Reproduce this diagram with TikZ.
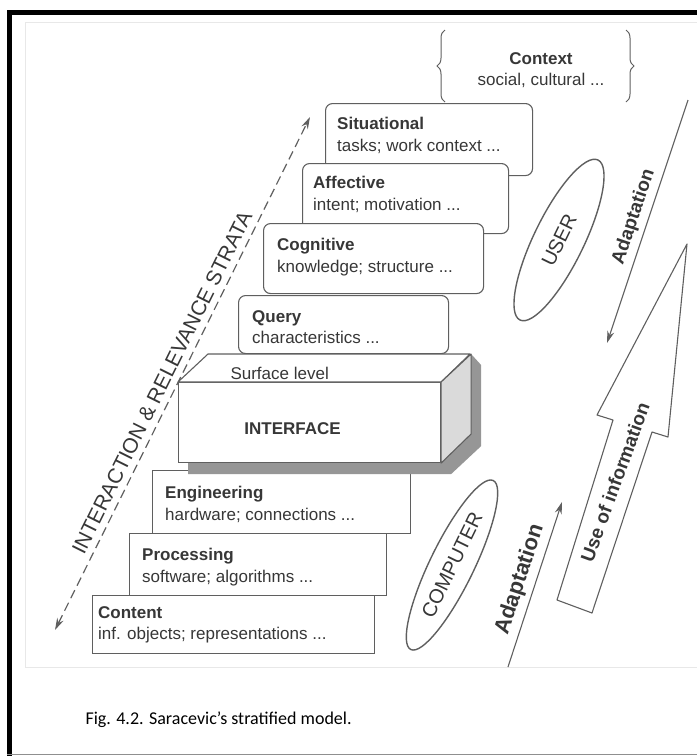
\documentclass[tikz,border=0pt]{standalone}
\usepackage{fontspec}
\setmainfont{Liberation Sans}
\newfontfamily\captionfont{Carlito}
\usetikzlibrary{positioning,arrows.meta,calc,shapes.geometric,decorations.pathreplacing}
\definecolor{smBorder}{RGB}{95,95,95}
\definecolor{smText}{RGB}{55,55,55}
\definecolor{smSide}{RGB}{218,218,218}
\definecolor{smShadow}{RGB}{150,150,150}
\definecolor{smFrame}{RGB}{232,232,232}

\begin{document}
\begin{tikzpicture}[
  x=1pt, y=-1pt,
  every node/.style={font=\fontsize{17}{21.5}\selectfont, text=smText},
  upper/.style={draw=smBorder, line width=1.1pt, rounded corners=7pt, fill=white, anchor=north west, inner sep=0pt},
  lower/.style={draw=smBorder, line width=1.1pt, fill=white, anchor=north west, inner sep=0pt},
  stext/.style={anchor=north west, align=left, inner sep=0pt},
  face/.style={draw=smBorder, line width=1.1pt, fill=white, line join=round},
  actor/.style={ellipse, draw=smBorder, line width=1.4pt, inner sep=0pt, font=\fontsize{20}{24}\selectfont},
  adapt/.style={-{Stealth[length=12pt,width=7pt]}, line width=1.1pt, smBorder},
  strata/.style={{Stealth[length=12pt,width=7pt]}-{Stealth[length=12pt,width=7pt]}, dash pattern=on 9pt off 5pt, line width=1.2pt, smBorder},
  brace/.style={decorate, decoration={brace, amplitude=8pt}, draw=smBorder, line width=1pt}
]
\useasboundingbox (0,0) rectangle (697,756);

% frame of the figure
\draw[smFrame, line width=0.8pt] (25,22) rectangle (710,667);
\draw[line width=5pt] (9.5,756) -- (9.5,12.5) -- (697,12.5);
\draw[smBorder!70, line width=1.2pt] (7,754.5) -- (697,754.5);

% context in braces
\node[align=center] (ctx) at (541,70) {\textbf{Context}\\social, cultural ...};
\draw[brace] ([shift={(-96,32)}]ctx.center) -- ([shift={(-96,-40)}]ctx.center);
\draw[brace] ([shift={(85,-40)}]ctx.center) -- ([shift={(85,32)}]ctx.center);

% user strata
\node[upper, minimum width=207pt, minimum height=72pt] (sit) at (325,103) {};
\node[stext] (sitT) at ([shift={(12,14)}]sit.north west) {\textbf{Situational}\\tasks; work context ...};
\node[upper, minimum width=206pt, minimum height=70pt] (aff) at (302,163) {};
\node[stext] (affT) at ([shift={(11,13)}]aff.north west) {\textbf{Affective}\\intent; motivation ...};
\node[upper, minimum width=220pt, minimum height=70pt] (cog) at (263,223) {};
\node[stext] (cogT) at ([shift={(14,15)}]cog.north west) {\textbf{Cognitive}\\knowledge; structure ...};
\node[upper, minimum width=210pt, minimum height=58pt] (qry) at (238,295) {};
\node[stext] (qryT) at ([shift={(14,15)}]qry.north west) {\textbf{Query}\\characteristics ...};

% computer strata
\node[lower, minimum width=282pt, minimum height=58pt] (con) at (92,595) {};
\node[stext] (conT) at ([shift={(6,11)}]con.north west) {\textbf{Content}\\inf. objects; representations ...};
\node[lower, minimum width=257pt, minimum height=62pt] (pro) at (129,533) {};
\node[stext] (proT) at ([shift={(13,15)}]pro.north west) {\textbf{Processing}\\software; algorithms ...};
\node[lower, minimum width=258pt, minimum height=63pt] (eng) at (152,470) {};
\node[stext] (engT) at ([shift={(13,16)}]eng.north west) {\textbf{Engineering}\\hardware; connections ...};

% interface block
\node[face, anchor=north west, minimum width=262pt, minimum height=80pt, inner sep=0pt] (iface) at (178,382) {};
\fill[smShadow] ([shift={(10,11)}]iface.north west) -- ([shift={(10,11)}]iface.south west)
  -- ([shift={(10,11)}]iface.south east) -- ([shift={(40,-17)}]iface.south east)
  -- ([shift={(40,-17)}]iface.north east) -- ([shift={(30,-28)}]iface.north east) -- cycle;
\node[face, anchor=north west, minimum width=262pt, minimum height=80pt, inner sep=0pt] (iface) at (178,382) {};
\draw[face] (iface.north west) -- ++(30,-28) -- ++(262,0) -- (iface.north east) -- cycle;
\draw[face, fill=smSide] (iface.north east) -- ++(30,-28) -- ++(0,80) -- (iface.south east) -- cycle;
\node[anchor=west] (surf) at ([shift={(49,-9)}]iface.north west) {Surface level};
\node[font=\bfseries\fontsize{17}{20}\selectfont] (ifaceT) at ([shift={(-17,6)}]iface.center) {INTERFACE};

% strata arrow
\coordinate (strataLo) at (55,630);
\coordinate (strataHi) at (310,117);
\draw[strata] (strataLo) -- (strataHi)
  node[pos=0.47, sloped, above=3pt, font=\fontsize{21}{24}\selectfont] (strataT) {INTERACTION \& RELEVANCE STRATA};

% user and computer
\node[actor, minimum width=178pt, minimum height=50pt, rotate=64] (user) at (559,240) {USER};
\node[actor, minimum width=188pt, minimum height=44pt, rotate=64] (comp) at (452,565) {COMPUTER};

% adaptation arrows
\coordinate (adUtop) at (688,100);
\coordinate (adUtip) at (607,343);
\draw[adapt] (adUtop) -- (adUtip);
\path (adUtip) -- (adUtop) node[midway, sloped, above=2pt, font=\bfseries\fontsize{19}{22}\selectfont] (adUT) {Adaptation};
\coordinate (adLfoot) at (508,667);
\coordinate (adLtip) at (562,502);
\draw[adapt] (adLfoot) -- (adLtip);
\path (adLfoot) -- (adLtip) node[midway, sloped, above=2pt, font=\bfseries\fontsize{22}{26}\selectfont] (adLT) {Adaptation};

% use of information
\draw[face] (687,244) -- (668,437) -- (652,432) -- (592,613) -- (557,600) -- (613,420) -- (597,415) -- cycle;
\node[rotate=70, font=\bfseries\fontsize{19}{22}\selectfont] (useT) at (615,482) {Use of information};

% caption
\node[anchor=west, text=black, font=\captionfont\fontsize{18}{22}\selectfont] (caption) at (82,720) {Fig. 4.2. Saracevic’s stratified model.};

\end{tikzpicture}
\end{document}
